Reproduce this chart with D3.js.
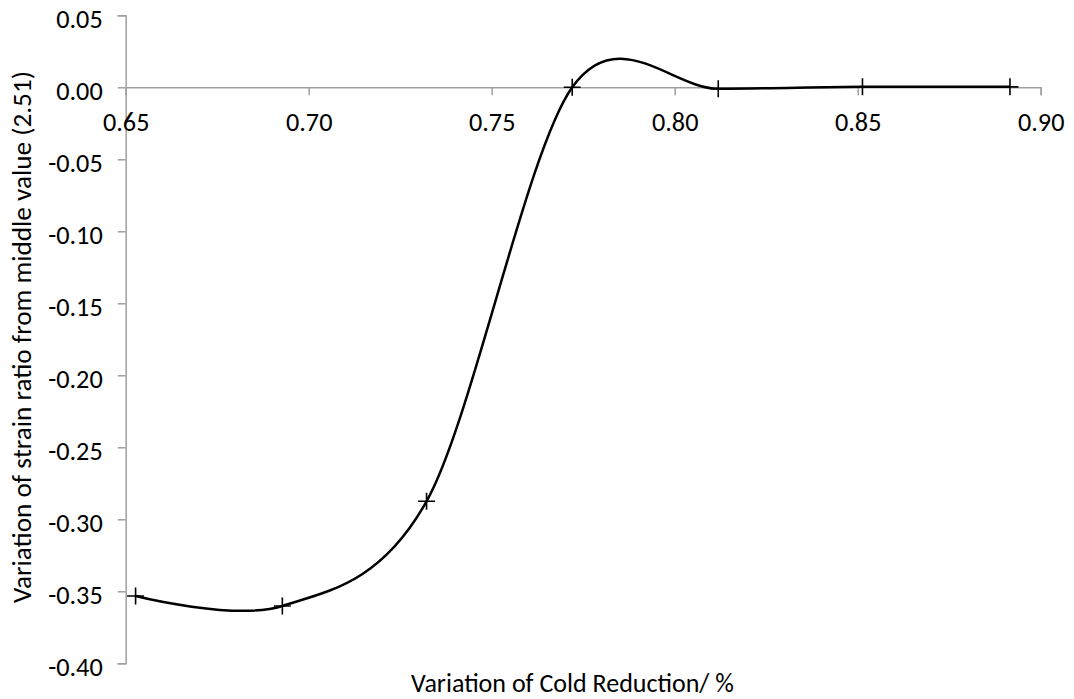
<!DOCTYPE html>
<html>
<head>
<meta charset="utf-8">
<script src="https://cdn.jsdelivr.net/npm/d3@7"></script>
<style>
  html, body { margin: 0; padding: 0; background: #fff; }
  svg { display: block; }
  text { font-family: Carlito, Calibri, Lato, "Liberation Sans", sans-serif; fill: #000; }
</style>
</head>
<body>
<svg id="chart" width="1074" height="699"></svg>
<script>
// Cold reduction (x) and strain ratio variation from middle value 2.51 (y)
const coldReduction = [0.6527, 0.6928, 0.7322, 0.7720, 0.8119, 0.8513, 0.8916];
const strainVariation = [-0.3533, -0.3602, -0.2875, 0.0, -0.001, 0.0003, 0.0003];
const xTicks = [0.65, 0.70, 0.75, 0.80, 0.85, 0.90];
const yTicks = [0.05, 0.00, -0.05, -0.10, -0.15, -0.20, -0.25, -0.30, -0.35, -0.40];

const svg = d3.select("#chart");
const plotLeft = 125.7, plotRight = 1040.7, plotTop = 15.3, plotBottom = 663.3;

const x = d3.scaleLinear().domain([0.65, 0.90]).range([plotLeft, plotRight]);
const y = d3.scaleLinear().domain([0.05, -0.40]).range([plotTop, plotBottom]);

const axisColor = "#a0a0a0";
const locale = d3.formatLocale({ decimal: ".", thousands: ",", grouping: [3], currency: ["", ""], minus: "-" });
const fmt = locale.format(".2f");

// Pick a font size so that a text run spans the wanted width
function fitSize(str, width) {
  const probe = svg.append("text").style("font-size", "100px").text(str);
  const w = probe.node().getComputedTextLength();
  probe.remove();
  return (100 * width / w).toFixed(2) + "px";
}
const tickFont = fitSize("0.05", 46.5);

// Y axis (ticks outward, labels left)
const yAxis = svg.append("g")
  .attr("transform", `translate(${plotLeft},0)`)
  .call(d3.axisLeft(y).tickValues(yTicks).tickFormat(fmt).tickSize(8).tickPadding(15));
yAxis.select(".domain").attr("stroke", axisColor).attr("stroke-width", 1.5);
yAxis.selectAll(".tick line").attr("stroke", axisColor).attr("stroke-width", 1.5);
yAxis.selectAll(".tick text").style("font-size", tickFont).attr("dy", "0.46em");

// X axis crossing at y = 0, ticks below
const xAxis = svg.append("g")
  .attr("transform", `translate(0,${y(0)})`)
  .call(d3.axisBottom(x).tickValues(xTicks).tickFormat(fmt).tickSize(8).tickPadding(17));
xAxis.select(".domain").attr("stroke", axisColor).attr("stroke-width", 1.5);
xAxis.selectAll(".tick line").attr("stroke", axisColor).attr("stroke-width", 1.5);
xAxis.selectAll(".tick text").style("font-size", tickFont);

// Smoothed data line
const pts = coldReduction.map((v, i) => [v, strainVariation[i]]);
const line = d3.line()
  .x(d => x(d[0]))
  .y(d => y(d[1]))
  .curve(d3.curveCardinal.tension(0.05));
svg.append("path")
  .datum(pts)
  .attr("d", line)
  .attr("fill", "none")
  .attr("stroke", "#000")
  .attr("stroke-width", 2.5);

// Plus markers
const mk = 8.5;
svg.append("g").selectAll("path")
  .data(pts)
  .join("path")
  .attr("d", d => `M${x(d[0]) - mk},${y(d[1])}H${x(d[0]) + mk}M${x(d[0])},${y(d[1]) - mk}V${y(d[1]) + mk}`)
  .attr("stroke", "#000")
  .attr("stroke-width", 1.6)
  .attr("fill", "none");

// Axis titles
const xTitle = "Variation of Cold Reduction/ %";
const yTitle = "Variation of strain ratio from middle value (2.51)";
svg.append("text")
  .attr("x", 572.5).attr("y", 692)
  .attr("text-anchor", "middle")
  .style("font-size", fitSize(xTitle, 323))
  .text(xTitle);

svg.append("text")
  .attr("transform", `translate(31,${337}) rotate(-90)`)
  .attr("text-anchor", "middle")
  .style("font-size", fitSize(yTitle, 532))
  .text(yTitle);
</script>
</body>
</html>
